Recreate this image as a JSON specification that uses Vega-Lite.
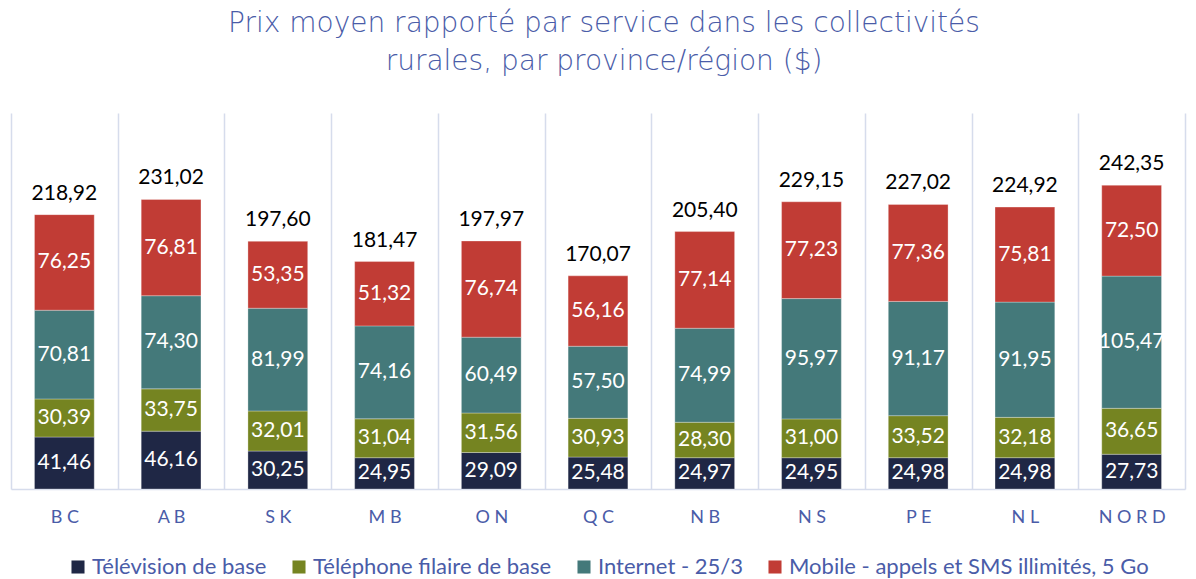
{
  "$schema": "https://vega.github.io/schema/vega-lite/v6.json",
  "width": 1174,
  "height": 376,
  "autosize": {"type": "none"},
  "padding": {"left": 11, "right": 11, "top": 113, "bottom": 90},
  "title": {
    "text": ["Prix moyen rapporté par service dans les collectivités", "rurales, par province/région ($)"],
    "font": "DejaVu Sans",
    "fontSize": 28,
    "fontWeight": 200,
    "color": "#4a5ca8",
    "anchor": "middle",
    "lineHeight": 38,
    "offset": 37,
    "dx": 6
  },
  "config": {
    "view": {"stroke": null},
    "locale": {"number": {"decimal": ",", "thousands": " ", "grouping": [3], "currency": ["", " $"]}},
    "font": "Lato"
  },
  "datasets": {
    "seg": [
      {"region": "BC", "service": "Télévision de base", "order": 1, "value": 41.46},
      {"region": "AB", "service": "Télévision de base", "order": 1, "value": 46.16},
      {"region": "SK", "service": "Télévision de base", "order": 1, "value": 30.25},
      {"region": "MB", "service": "Télévision de base", "order": 1, "value": 24.95},
      {"region": "ON", "service": "Télévision de base", "order": 1, "value": 29.09},
      {"region": "QC", "service": "Télévision de base", "order": 1, "value": 25.48},
      {"region": "NB", "service": "Télévision de base", "order": 1, "value": 24.97},
      {"region": "NS", "service": "Télévision de base", "order": 1, "value": 24.95},
      {"region": "PE", "service": "Télévision de base", "order": 1, "value": 24.98},
      {"region": "NL", "service": "Télévision de base", "order": 1, "value": 24.98},
      {"region": "NORD", "service": "Télévision de base", "order": 1, "value": 27.73},
      {"region": "BC", "service": "Téléphone filaire de base", "order": 2, "value": 30.39},
      {"region": "AB", "service": "Téléphone filaire de base", "order": 2, "value": 33.75},
      {"region": "SK", "service": "Téléphone filaire de base", "order": 2, "value": 32.01},
      {"region": "MB", "service": "Téléphone filaire de base", "order": 2, "value": 31.04},
      {"region": "ON", "service": "Téléphone filaire de base", "order": 2, "value": 31.56},
      {"region": "QC", "service": "Téléphone filaire de base", "order": 2, "value": 30.93},
      {"region": "NB", "service": "Téléphone filaire de base", "order": 2, "value": 28.30},
      {"region": "NS", "service": "Téléphone filaire de base", "order": 2, "value": 31.00},
      {"region": "PE", "service": "Téléphone filaire de base", "order": 2, "value": 33.52},
      {"region": "NL", "service": "Téléphone filaire de base", "order": 2, "value": 32.18},
      {"region": "NORD", "service": "Téléphone filaire de base", "order": 2, "value": 36.65},
      {"region": "BC", "service": "Internet - 25/3", "order": 3, "value": 70.81},
      {"region": "AB", "service": "Internet - 25/3", "order": 3, "value": 74.30},
      {"region": "SK", "service": "Internet - 25/3", "order": 3, "value": 81.99},
      {"region": "MB", "service": "Internet - 25/3", "order": 3, "value": 74.16},
      {"region": "ON", "service": "Internet - 25/3", "order": 3, "value": 60.49},
      {"region": "QC", "service": "Internet - 25/3", "order": 3, "value": 57.50},
      {"region": "NB", "service": "Internet - 25/3", "order": 3, "value": 74.99},
      {"region": "NS", "service": "Internet - 25/3", "order": 3, "value": 95.97},
      {"region": "PE", "service": "Internet - 25/3", "order": 3, "value": 91.17},
      {"region": "NL", "service": "Internet - 25/3", "order": 3, "value": 91.95},
      {"region": "NORD", "service": "Internet - 25/3", "order": 3, "value": 105.47},
      {"region": "BC", "service": "Mobile - appels et SMS illimités, 5 Go", "order": 4, "value": 76.25},
      {"region": "AB", "service": "Mobile - appels et SMS illimités, 5 Go", "order": 4, "value": 76.81},
      {"region": "SK", "service": "Mobile - appels et SMS illimités, 5 Go", "order": 4, "value": 53.35},
      {"region": "MB", "service": "Mobile - appels et SMS illimités, 5 Go", "order": 4, "value": 51.32},
      {"region": "ON", "service": "Mobile - appels et SMS illimités, 5 Go", "order": 4, "value": 76.74},
      {"region": "QC", "service": "Mobile - appels et SMS illimités, 5 Go", "order": 4, "value": 56.16},
      {"region": "NB", "service": "Mobile - appels et SMS illimités, 5 Go", "order": 4, "value": 77.14},
      {"region": "NS", "service": "Mobile - appels et SMS illimités, 5 Go", "order": 4, "value": 77.23},
      {"region": "PE", "service": "Mobile - appels et SMS illimités, 5 Go", "order": 4, "value": 77.36},
      {"region": "NL", "service": "Mobile - appels et SMS illimités, 5 Go", "order": 4, "value": 75.81},
      {"region": "NORD", "service": "Mobile - appels et SMS illimités, 5 Go", "order": 4, "value": 72.50}
    ],
    "tot": [
      {"region": "BC", "total": 218.92},
      {"region": "AB", "total": 231.02},
      {"region": "SK", "total": 197.60},
      {"region": "MB", "total": 181.47},
      {"region": "ON", "total": 197.97},
      {"region": "QC", "total": 170.07},
      {"region": "NB", "total": 205.40},
      {"region": "NS", "total": 229.15},
      {"region": "PE", "total": 227.02},
      {"region": "NL", "total": 224.92},
      {"region": "NORD", "total": 242.35}
    ]
  },
  "layer": [
    {
      "data": {"name": "seg"},
      "transform": [
        {"stack": "value", "groupby": ["region"], "sort": [{"field": "order"}], "as": ["v0", "v1"]},
        {"calculate": "(datum.v0 + datum.v1) / 2", "as": "mid"}
      ],
      "layer": [
        {
          "mark": {"type": "bar", "width": {"band": 0.56}, "stroke": "#ffffff", "strokeWidth": 0.6, "strokeOpacity": 0.5},
          "encoding": {
            "x": {
              "field": "region", "type": "nominal",
              "sort": ["BC", "AB", "SK", "MB", "ON", "QC", "NB", "NS", "PE", "NL", "NORD"],
              "scale": {"paddingInner": 0, "paddingOuter": 0},
              "axis": {
                "title": null, "labelAngle": 0, "grid": true, "tickBand": "extent",
                "gridColor": "#d6dcec", "gridWidth": 1.5, "domainColor": "#d6dcec", "domainWidth": 1.5,
                "ticks": false, "labelColor": "#4a5ca8", "labelFontSize": 18, "labelPadding": 19,
                "labelFont": "Lato",
                "labelExpr": "join(split(datum.label, ''), ' ')"
              }
            },
            "y": {"field": "v0", "type": "quantitative", "scale": {"domain": [0, 300]}, "axis": null},
            "y2": {"field": "v1"},
            "color": {
              "field": "service", "type": "nominal",
              "scale": {
                "domain": ["Télévision de base", "Téléphone filaire de base", "Internet - 25/3", "Mobile - appels et SMS illimités, 5 Go"],
                "range": ["#1f2745", "#758421", "#44797a", "#c13c35"]
              },
              "legend": {
                "title": null, "orient": "none", "direction": "horizontal",
                "legendX": 56, "legendY": 443,
                "symbolType": "square", "symbolSize": 170, "symbolStrokeWidth": 0,
                "labelFontSize": 22, "labelColor": "#4a5ca8", "labelFont": "Lato",
                "labelLimit": 0, "labelOffset": 3, "columnPadding": 21
              }
            }
          }
        },
        {
          "mark": {"type": "text", "color": "#ffffff", "fontSize": 21, "font": "Lato", "baseline": "middle"},
          "encoding": {
            "x": {"field": "region", "type": "nominal", "sort": ["BC", "AB", "SK", "MB", "ON", "QC", "NB", "NS", "PE", "NL", "NORD"]},
            "y": {"field": "mid", "type": "quantitative"},
            "text": {"field": "value", "type": "quantitative", "format": ".2f"}
          }
        }
      ]
    },
    {
      "data": {"name": "tot"},
      "mark": {"type": "text", "color": "#000000", "fontSize": 21, "font": "Lato", "baseline": "bottom", "dy": -11},
      "encoding": {
        "x": {"field": "region", "type": "nominal", "sort": ["BC", "AB", "SK", "MB", "ON", "QC", "NB", "NS", "PE", "NL", "NORD"]},
        "y": {"field": "total", "type": "quantitative"},
        "text": {"field": "total", "type": "quantitative", "format": ".2f"}
      }
    }
  ]
}
